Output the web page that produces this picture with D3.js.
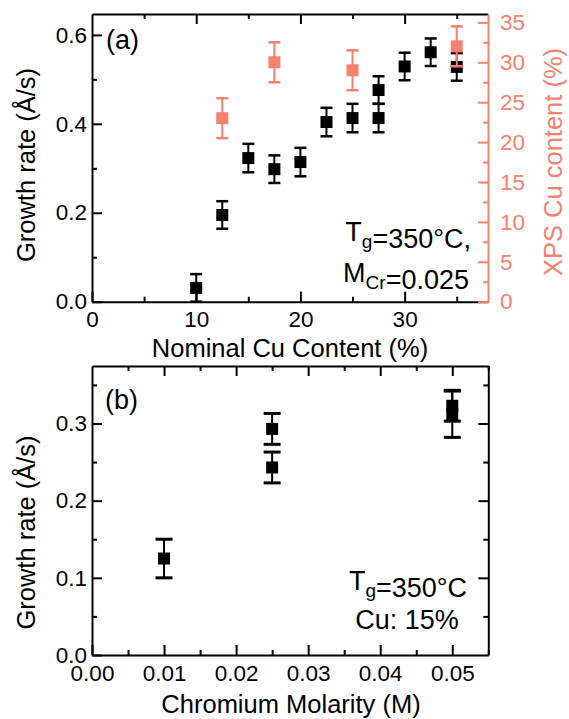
<!DOCTYPE html>
<html><head><meta charset="utf-8">
<script src="https://cdn.jsdelivr.net/npm/d3@7"></script>
<style>
html,body{margin:0;padding:0;background:#fff;}
svg text{font-family:"Liberation Sans",Arial,Helvetica,sans-serif;}
</style></head>
<body>
<svg id="chart" width="569" height="719"></svg>
<script>
// ---- Panel (a) data ----
const cuNominal   = [10, 12.5, 15, 17.5, 20, 22.5, 25, 27.5, 27.5, 30, 32.5, 35];
const growthA     = [0.031, 0.195, 0.323, 0.298, 0.314, 0.404, 0.413, 0.476, 0.413, 0.529, 0.561, 0.528];
const growthAErr  = [0.031, 0.031, 0.032, 0.031, 0.032, 0.032, 0.032, 0.031, 0.032, 0.031, 0.031, 0.031];
const xpsNominal  = [12.5, 17.5, 25, 35];
const xpsCu       = [23.0, 30.0, 29.0, 32.0];
const xpsErr      = [2.5, 2.5, 2.5, 2.5];
const xTicksA     = [0, 10, 20, 30];
const yTicksA     = [0.0, 0.2, 0.4, 0.6];
const y2TicksA    = [0, 5, 10, 15, 20, 25, 30, 35];
// ---- Panel (b) data ----
const molarity    = [0.01, 0.025, 0.025, 0.05, 0.05];
const growthB     = [0.125, 0.293, 0.243, 0.323, 0.312];
const growthBErr  = [0.025, 0.02, 0.02, 0.02, 0.03];
const xTicksB     = [0, 0.01, 0.02, 0.03, 0.04, 0.05];
const yTicksB     = [0.0, 0.1, 0.2, 0.3];

const SALMON = "#f7806f";
const svg = d3.select("#chart");
const FT = 22.5, FTITLE = 25.5, FANN = 27, FLAB = 27;

function minorRange(a, b, step){ const r=[]; for(let v=a; v<=b+1e-9; v+=step) r.push(+v.toFixed(6)); return r; }

function drawAxis(g, axisFn, scale, major, minor, fmt, color, pad){
  const maj = axisFn(scale).tickValues(major).tickSizeInner(-10).tickSizeOuter(0).tickPadding(pad).tickFormat(fmt);
  const mn  = axisFn(scale).tickValues(minor).tickSizeInner(-5).tickSizeOuter(0).tickFormat("");
  g.append("g").call(mn).call(s=>{s.select(".domain").remove(); s.selectAll("line").attr("stroke",color).attr("stroke-width",2);});
  const a = g.append("g").call(maj);
  a.select(".domain").attr("stroke",color).attr("stroke-width",2);
  a.selectAll(".tick line").attr("stroke",color).attr("stroke-width",2);
  a.selectAll("text").attr("fill",color).style("font-size",FT+"px").attr("font-family",null);
  return a;
}

// ================= Panel (a) =================
const xA  = d3.scaleLinear().domain([0, 38]).range([92, 488]);
const yA  = d3.scaleLinear().domain([0, 0.647]).range([301.7, 14]);
const y2A = d3.scaleLinear().domain([0, 36.05]).range([301.7, 14]);

const gA = svg.append("g");
drawAxis(gA.append("g").attr("transform","translate(0,301.7)"), d3.axisBottom, xA, xTicksA, minorRange(5,35,10), d3.format("d"), "#000", 9);
drawAxis(gA.append("g").attr("transform","translate(0,14)"), d3.axisTop, xA, minorRange(0,35,10).filter(v=>v>0), minorRange(5,35,10), "", "#000", 0);
drawAxis(gA.append("g").attr("transform","translate(92,0)"), d3.axisLeft, yA, yTicksA, minorRange(0.1,0.5,0.2), d3.format(".1f"), "#000", 5);
drawAxis(gA.append("g").attr("transform","translate(488,0)"), d3.axisRight, y2A, y2TicksA, minorRange(2.5,32.5,5), d3.format("d"), SALMON, 12);

function errBars(g, xs, ys, es, xS, yS, color, cap, capW){
  xs.forEach((xv,i)=>{
    const cx = xS(xv), y0 = yS(ys[i]-es[i]), y1 = yS(ys[i]+es[i]);
    g.append("line").attr("x1",cx).attr("x2",cx).attr("y1",y0).attr("y2",y1).attr("stroke",color).attr("stroke-width",2);
    [y0,y1].forEach(yy=> g.append("line").attr("x1",cx-cap/2).attr("x2",cx+cap/2).attr("y1",yy).attr("y2",yy).attr("stroke",color).attr("stroke-width",capW));
    g.append("rect").attr("x",cx-6).attr("y",yS(ys[i])-6).attr("width",12).attr("height",12).attr("fill",color);
  });
}
svg.append("clipPath").attr("id","clipA").append("rect").attr("x",80).attr("y",0).attr("width",420).attr("height",302);
const ptsA = svg.append("g").attr("clip-path","url(#clipA)");
errBars(ptsA, cuNominal, growthA, growthAErr, xA, yA, "#000", 12, 2.5);
errBars(ptsA, xpsNominal, xpsCu, xpsErr, xA, y2A, SALMON, 12, 2.5);

// titles (a)
svg.append("text").attr("transform","translate(35,165) rotate(-90)").attr("text-anchor","middle").style("font-size",FTITLE+"px").text("Growth rate (Å/s)");
svg.append("text").attr("transform","translate(562,162) rotate(-90)").attr("text-anchor","middle").attr("fill",SALMON).style("font-size",FTITLE+"px").text("XPS Cu content (%)");
svg.append("text").attr("x",290).attr("y",357).attr("text-anchor","middle").style("font-size",FTITLE+"px").text("Nominal Cu Content (%)");
svg.append("text").attr("x",106).attr("y",49).style("font-size",FLAB+"px").text("(a)");

function annot(x, y, anchor, parts){
  const t = svg.append("text").attr("x",x).attr("y",y).attr("text-anchor",anchor).style("font-size",FANN+"px");
  parts.forEach(p=>{
    if(p.sub){ t.append("tspan").attr("dy",7).style("font-size","19px").text(p.sub); t.append("tspan").attr("dy",-7).text(""); }
    else t.append("tspan").text(p.t);
  });
}
annot(471, 241, "end", [{t:"T"},{sub:"g"},{t:"=350°C,"}]);
annot(469, 282, "end", [{t:"M"},{sub:"Cr"},{t:"=0.025"}]);

// ================= Panel (b) =================
const xB = d3.scaleLinear().domain([0, 0.055]).range([92, 488.3]);
const yB = d3.scaleLinear().domain([0, 0.3745]).range([655, 366]);
const gB = svg.append("g");
drawAxis(gB.append("g").attr("transform","translate(0,655)"), d3.axisBottom, xB, xTicksB, minorRange(0.005,0.055,0.01), d3.format(".2f"), "#000", 10);
drawAxis(gB.append("g").attr("transform","translate(0,366)"), d3.axisTop, xB, xTicksB.filter(v=>v>0), minorRange(0.005,0.055,0.01), "", "#000", 0);
drawAxis(gB.append("g").attr("transform","translate(92,0)"), d3.axisLeft, yB, yTicksB, minorRange(0.05,0.35,0.1), d3.format(".1f"), "#000", 5);
drawAxis(gB.append("g").attr("transform","translate(488.3,0)"), d3.axisRight, yB, yTicksB.filter(v=>v>0), minorRange(0.05,0.35,0.1), "", "#000", 0);
const ptsB = svg.append("g");
errBars(ptsB, molarity, growthB, growthBErr, xB, yB, "#000", 17, 3);

svg.append("text").attr("transform","translate(35,532.5) rotate(-90)").attr("text-anchor","middle").style("font-size",FTITLE+"px").text("Growth rate (Å/s)");
svg.append("text").attr("x",291).attr("y",713).attr("text-anchor","middle").style("font-size",FTITLE+"px").text("Chromium Molarity (M)");
svg.append("text").attr("x",105).attr("y",409).style("font-size",FLAB+"px").text("(b)");
annot(408, 590, "middle", [{t:"T"},{sub:"g"},{t:"=350°C"}]);
annot(407, 628.5, "middle", [{t:"Cu: 15%"}]);
</script>
</body></html>
